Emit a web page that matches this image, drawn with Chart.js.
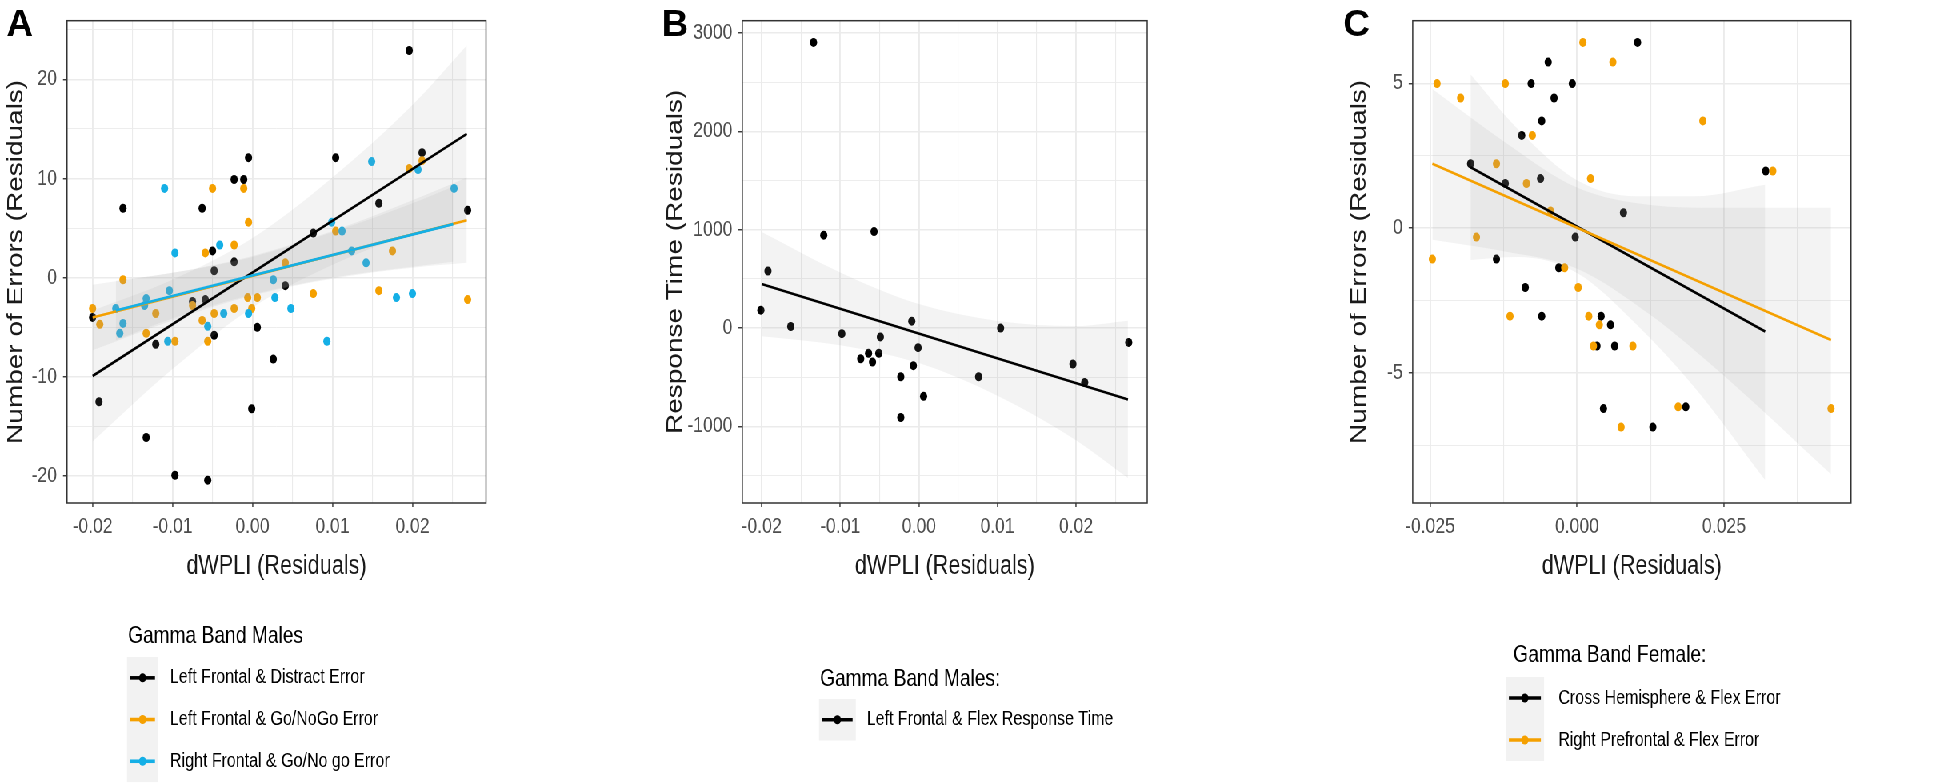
<!DOCTYPE html>
<html>
<head>
<meta charset="utf-8">
<title>dWPLI residual correlations</title>
<script src="https://cdn.jsdelivr.net/npm/chart.js@4.4.1/dist/chart.umd.min.js"></script>
<style>
  html, body { margin: 0; padding: 0; background: #fff; overflow: hidden; }
  /* the source figure is squeezed horizontally, so draw wide and squeeze */
  #wrap { position: absolute; left: 0; top: 0; width: 2450px; height: 784px; transform: scaleX(0.8); transform-origin: 0 0; }
  #wrap canvas { position: absolute; top: 0; }
</style>
</head>
<body>
<div id="wrap">
  <canvas id="panelA" width="812" height="784" style="left:0"></canvas>
  <canvas id="panelB" width="850" height="784" style="left:812px"></canvas>
  <canvas id="panelC" width="788" height="784" style="left:1662px"></canvas>
</div>
<script>
// ---------- data: panel A (Gamma Band Males, errors) ----------
var aBlackX = [-0.0200, -0.0162, -0.0192, -0.0133, -0.0097, -0.0056, -0.0001, -0.0121, -0.0075, -0.0063, -0.0059, -0.0050, -0.0048, -0.0048, -0.0023, -0.0023, -0.0011, -0.0005, 0.0006, 0.0026, 0.0041, 0.0076, 0.0104, 0.0158, 0.0196, 0.0212, 0.0269];
var aBlackY = [-4.0, 7.0, -12.5, -16.1, -19.9, -20.4, -13.2, -6.7, -2.4, 7.0, -2.2, 2.7, 0.7, -5.8, 9.9, 1.6, 9.9, 12.1, -5.0, -8.2, -0.8, 4.5, 12.1, 7.5, 22.9, 12.6, 6.8];
var aOrangeX = [-0.0200, -0.0191, -0.0162, -0.0133, -0.0121, -0.0097, -0.0075, -0.0063, -0.0059, -0.0056, -0.0050, -0.0048, -0.0023, -0.0023, -0.0011, -0.0005, -0.0006, -0.0001, 0.0006, 0.0041, 0.0076, 0.0104, 0.0158, 0.0175, 0.0196, 0.0212, 0.0269];
var aOrangeY = [-3.1, -4.7, -0.2, -5.6, -3.6, -6.4, -2.8, -4.3, 2.5, -6.4, 9.0, -3.6, 3.3, -3.1, 9.0, 5.6, -2.0, -3.1, -2.0, 1.5, -1.6, 4.7, -1.3, 2.7, 11.0, 11.8, -2.2];
var aBlueX = [-0.0171, -0.0166, -0.0162, -0.0133, -0.0135, -0.0110, -0.0106, -0.0104, -0.0097, -0.0056, -0.0041, -0.0036, -0.0005, 0.0026, 0.0028, 0.0048, 0.0093, 0.0099, 0.0112, 0.0124, 0.0142, 0.0149, 0.0180, 0.0200, 0.0207, 0.0252];
var aBlueY = [-3.1, -5.6, -4.6, -2.1, -2.8, 9.0, -6.4, -1.3, 2.5, -4.9, 3.3, -3.6, -3.6, -0.2, -2.0, -3.1, -6.4, 5.6, 4.7, 2.7, 1.5, 11.7, -2.0, -1.6, 10.9, 9.0];

var aBlackFitX = [-0.0200, 0.0268];
var aBlackFitY = [-9.9, 14.5];
var aOrangeFitX = [-0.0200, 0.0268];
var aOrangeFitY = [-4.0, 5.8];
var aBlueFitX = [-0.0171, 0.0251];
var aBlueFitY = [-3.3, 5.4];

var aBlackBandX = [-0.0200, -0.0100, 0.0000, 0.0100, 0.0200, 0.0268];
var aBlackBandHi = [-3.3, -0.2, 4.0, 10.1, 17.4, 23.4];
var aBlackBandLo = [-16.5, -9.2, -3.0, 1.3, 4.4, 5.6];
var aOrangeBandX = [-0.0200, -0.0100, 0.0000, 0.0100, 0.0200, 0.0268];
var aOrangeBandHi = [-0.7, 0.5, 2.2, 4.7, 7.8, 10.1];
var aOrangeBandLo = [-7.3, -4.3, -1.8, -0.1, 1.0, 1.5];
var aBlueBandX = [-0.0171, -0.0100, 0.0000, 0.0100, 0.0200, 0.0251];
var aBlueBandHi = [-0.3, 0.5, 2.1, 4.6, 7.5, 9.2];
var aBlueBandLo = [-6.3, -4.1, -1.7, 0.0, 1.1, 1.6];

var aXTicks = [-0.02, -0.01, 0, 0.01, 0.02];
var aXMinor = [-0.015, -0.005, 0.005, 0.015, 0.025];
var aYTicks = [-20, -10, 0, 10, 20];
var aYMinor = [-15, -5, 5, 15, 25];

// ---------- data: panel B (Gamma Band Males, response time) ----------
var bX = [-0.0134, -0.0192, -0.0201, -0.0163, -0.0121, -0.0098, -0.0074, -0.0064, -0.0059, -0.0057, -0.0051, -0.0049, -0.0023, -0.0009, -0.0007, -0.0001, 0.0006, -0.0023, 0.0076, 0.0104, 0.0196, 0.0211, 0.0267];
var bY = [2905, 580, 182, 16, 945, -57, -312, -256, -345, 981, -256, -90, -495, 70, -382, -199, -694, -909, -495, 0, -365, -554, -146];
var bFitX = [-0.0200, 0.0266];
var bFitY = [448, -726];
var bBandX = [-0.0200, -0.0100, 0.0000, 0.0100, 0.0200, 0.0266];
var bBandHi = [978, 566, 244, 72, 20, 74];
var bBandLo = [-82, -174, -356, -688, -1140, -1526];

var bXTicks = [-0.02, -0.01, 0, 0.01, 0.02];
var bXMinor = [-0.015, -0.005, 0.005, 0.015, 0.025];
var bYTicks = [-1000, 0, 1000, 2000, 3000];
var bYMinor = [-1500, -500, 500, 1500, 2500];

// ---------- data: panel C (Gamma Band Female, errors) ----------
var cBlackX = [-0.0181, -0.0137, -0.0122, -0.0094, -0.0088, -0.0078, -0.0062, -0.0060, -0.0060, -0.0049, -0.0039, -0.0031, -0.0008, -0.0003, 0.0034, 0.0041, 0.0057, 0.0064, 0.0079, 0.0103, 0.0321, 0.0045, 0.0129, 0.0185];
var cBlackY = [2.22, -1.07, 1.54, 3.20, -2.05, 4.99, 1.71, 3.70, -3.04, 5.73, 4.49, -1.37, 4.99, -0.31, -4.07, -3.04, -3.34, -4.07, 0.53, 6.41, 1.97, -6.23, -6.87, -6.17];
var cOrangeX = [-0.0246, -0.0238, -0.0198, -0.0171, -0.0137, -0.0122, -0.0114, -0.0086, -0.0076, -0.0045, -0.0021, 0.0002, 0.0010, 0.0020, 0.0023, 0.0028, 0.0038, 0.0061, 0.0095, 0.0214, 0.0333, 0.0075, 0.0172, 0.0432];
var cOrangeY = [-1.07, 4.99, 4.49, -0.31, 2.22, 4.99, -3.04, 1.54, 3.20, 0.59, -1.37, -2.05, 6.41, -3.04, 1.71, -4.07, -3.34, 5.73, -4.07, 3.70, 1.97, -6.87, -6.17, -6.23];

var cBlackFitX = [-0.0181, 0.0320];
var cBlackFitY = [2.10, -3.57];
var cOrangeFitX = [-0.0246, 0.0432];
var cOrangeFitY = [2.22, -3.86];

var cBlackBandX = [-0.0181, -0.0100, 0.0000, 0.0100, 0.0200, 0.0320];
var cBlackBandHi = [5.3, 3.4, 1.65, 1.1, 1.1, 1.5];
var cBlackBandLo = [-1.1, -1.0, -1.55, -3.3, -5.5, -8.7];
var cOrangeBandX = [-0.0246, -0.0125, 0.0000, 0.0125, 0.0250, 0.0432];
var cOrangeBandHi = [4.8, 3.0, 1.4, 0.8, 0.7, 0.7];
var cOrangeBandLo = [-0.4, -0.8, -1.4, -3.0, -5.1, -8.5];

var cXTicks = [-0.025, 0, 0.025];
var cXMinor = [-0.0125, 0.0125, 0.0375];
var cYTicks = [-5, 0, 5];
var cYMinor = [-7.5, -2.5, 2.5];

// ---------- styling ----------
var SQUEEZE = 0.8;
var FONT = '"Liberation Sans", Arial, sans-serif';
var BLACK = '#000000';
var ORANGE = '#F5A000';
var BLUE = '#14AFE6';
var BAND = 'rgba(153,153,153,0.12)';

function toXY(xs, ys) {
    return xs.map(function(x, i) { return { x: x, y: ys[i] }; });
}

// lower "order" is painted later (on top); later series sit on top like in ggplot
function points(xs, ys, color, order) {
    return { type: 'scatter', data: toXY(xs, ys), backgroundColor: color, borderWidth: 0, pointRadius: 4.5, order: order };
}

function band(xs, hi, lo) {
    return [
        { type: 'line', data: toXY(xs, hi), borderWidth: 0, pointRadius: 0, fill: false, cubicInterpolationMode: 'monotone', order: 2 },
        { type: 'line', data: toXY(xs, lo), borderWidth: 0, pointRadius: 0, fill: '-1', backgroundColor: BAND, cubicInterpolationMode: 'monotone', order: 2 }
    ];
}

function fitLine(label, xs, ys, color, order) {
    return { type: 'line', label: label, key: true, data: toXY(xs, ys), borderColor: color, backgroundColor: color, borderWidth: 2.6, pointRadius: 0, fill: false, order: order };
}

function isMajor(v, majors) {
    return majors.some(function(m) { return Math.abs(m - v) < 1e-9; });
}

// fixed tick list: labelled major ticks plus unlabelled minor grid lines
function setTicks(majors, minors) {
    return function(s) {
        s.ticks = majors.concat(minors).sort(function(p, q) { return p - q; })
            .map(function(v) { return { value: v }; });
    };
}

function gridOpts(majors, wMajor, wMinor, tickLen) {
    return {
        color: '#ebebeb',
        lineWidth: function(c) { return c.tick && isMajor(c.tick.value, majors) ? wMajor : wMinor; },
        tickColor: function(c) { return c.tick && isMajor(c.tick.value, majors) ? '#333333' : 'rgba(0,0,0,0)'; },
        tickLength: tickLen,
        tickWidth: 1.4
    };
}

function xAxis(min, max, majors, minors, digits) {
    return {
        type: 'linear', min: min, max: max,
        afterBuildTicks: setTicks(majors, minors),
        afterFit: function(s) { s.height = 80; },
        border: { display: false },
        grid: gridOpts(majors, 1.9, 1.1, 4),
        ticks: {
            autoSkip: false, maxRotation: 0, padding: 7,
            color: '#4d4d4d', font: { family: FONT, size: 22 },
            callback: function(v) { return isMajor(v, majors) ? (Math.abs(v) < 1e-12 ? 0 : v).toFixed(digits) : ''; }
        },
        title: { display: true, text: 'dWPLI (Residuals)', color: '#1a1a1a', font: { family: FONT, size: 27 }, padding: { top: 0, bottom: 0 } }
    };
}

function yAxis(min, max, majors, minors, width, titleText, titlePad) {
    return {
        type: 'linear', min: min, max: max,
        afterBuildTicks: setTicks(majors, minors),
        afterFit: function(s) { s.width = width; },
        border: { display: false },
        grid: gridOpts(majors, 1.5, 0.9, 5),
        ticks: {
            autoSkip: false, padding: 7.5,
            color: '#4d4d4d', font: { family: FONT, size: 22 },
            callback: function(v) { return isMajor(v, majors) ? String(v) : ''; }
        },
        title: { display: true, text: titleText, color: '#1a1a1a', font: { family: FONT, size: 28 }, padding: { top: titlePad, bottom: 0 } }
    };
}

// panel frame, panel letter and the ggplot style legend
var ggPlugin = {
    id: 'gg',
    afterDraw: function(chart, args, opts) {
        var ctx = chart.ctx;
        var a = chart.chartArea;
        ctx.save();
        ctx.strokeStyle = '#333333';
        ctx.lineWidth = 1.5;
        ctx.strokeRect(a.left, a.top, a.right - a.left, a.bottom - a.top);

        // letter is not squeezed in the source
        ctx.save();
        ctx.translate(opts.tagX, 36);
        ctx.scale(1 / SQUEEZE, 1);
        ctx.font = 'bold 37px ' + FONT;
        ctx.fillStyle = '#000';
        ctx.textBaseline = 'alphabetic';
        ctx.fillText(opts.tag, 0, 0);
        ctx.restore();

        var lg = opts.legend;
        var items = chart.data.datasets.filter(function(d) { return d.key; });
        ctx.textAlign = 'left';
        ctx.textBaseline = 'middle';
        ctx.fillStyle = '#000';
        ctx.font = '24px ' + FONT;
        ctx.fillText(lg.title, lg.titleX, lg.titleY);

        ctx.fillStyle = '#f2f2f2';
        ctx.fillRect(lg.boxX, lg.top, lg.boxW, lg.rowH * items.length);
        items.forEach(function(d, i) {
            var y = lg.top + lg.rowH * (i + 0.5);
            ctx.strokeStyle = d.borderColor;
            ctx.lineWidth = 3.6;
            ctx.beginPath();
            ctx.moveTo(lg.boxX + 4, y);
            ctx.lineTo(lg.boxX + lg.boxW - 4, y);
            ctx.stroke();
            ctx.fillStyle = d.borderColor;
            ctx.beginPath();
            ctx.arc(lg.boxX + lg.boxW / 2, y, 4.5, 0, Math.PI * 2);
            ctx.fill();
            ctx.fillStyle = '#000';
            ctx.font = '20px ' + FONT;
            ctx.fillText(d.label, lg.textX, y);
        });
        ctx.restore();
    }
};

function makePanel(id, datasets, xScale, yScale, rightPad, gg) {
    return new Chart(document.getElementById(id), {
        type: 'scatter',
        data: { datasets: datasets },
        options: {
            responsive: false,
            animation: false,
            events: [],
            layout: { autoPadding: false, padding: { left: 0, right: rightPad, top: 10, bottom: 201 } },
            scales: { x: xScale, y: yScale },
            plugins: { legend: { display: false }, tooltip: { enabled: false }, gg: gg }
        },
        plugins: [ggPlugin]
    });
}

// Panel A
makePanel('panelA',
    [points(aBlackX, aBlackY, BLACK, 3.3), points(aOrangeX, aOrangeY, ORANGE, 3.2), points(aBlueX, aBlueY, BLUE, 3.1)]
        .concat(band(aBlackBandX, aBlackBandHi, aBlackBandLo))
        .concat(band(aOrangeBandX, aOrangeBandHi, aOrangeBandLo))
        .concat(band(aBlueBandX, aBlueBandHi, aBlueBandLo))
        .concat([
            fitLine('Left Frontal & Distract Error', aBlackFitX, aBlackFitY, BLACK, 1.3),
            fitLine('Left Frontal & Go/NoGo Error', aOrangeFitX, aOrangeFitY, ORANGE, 1.2),
            fitLine('Right Frontal & Go/No go Error', aBlueFitX, aBlueFitY, BLUE, 1.1)
        ]),
    xAxis(-0.0232, 0.0292, aXTicks, aXMinor, 2),
    yAxis(-22.7, 25.9, aYTicks, aYMinor, 83.75, 'Number of Errors (Residuals)', 3),
    204.5,
    { tag: 'A', tagX: 8, legend: { title: 'Gamma Band Males', titleX: 160, titleY: 636, boxX: 158.75, boxW: 39, top: 657, rowH: 41.7, textX: 212.5 } }
);

// Panel B
makePanel('panelB',
    [points(bX, bY, BLACK, 3)]
        .concat(band(bBandX, bBandHi, bBandLo))
        .concat([fitLine('Left Frontal & Flex Response Time', bFitX, bFitY, BLACK, 1)]),
    xAxis(-0.02246, 0.02905, bXTicks, bXMinor, 2),
    yAxis(-1779, 3126, bYTicks, bYMinor, 115.9, 'Response Time (Residuals)', 15),
    228,
    { tag: 'B', tagX: 15, legend: { title: 'Gamma Band Males:', titleX: 213, titleY: 679, boxX: 211.75, boxW: 46, top: 699, rowH: 41.5, textX: 271.4 } }
);

// Panel C
makePanel('panelC',
    [points(cBlackX, cBlackY, BLACK, 3.2), points(cOrangeX, cOrangeY, ORANGE, 3.1)]
        .concat(band(cBlackBandX, cBlackBandHi, cBlackBandLo))
        .concat(band(cOrangeBandX, cOrangeBandHi, cOrangeBandLo))
        .concat([
            fitLine('Cross Hemisphere & Flex Error', cBlackFitX, cBlackFitY, BLACK, 1.2),
            fitLine('Right Prefrontal & Flex Error', cOrangeFitX, cOrangeFitY, ORANGE, 1.1)
        ]),
    xAxis(-0.02794, 0.0466, cXTicks, cXMinor, 3),
    yAxis(-9.49, 7.16, cYTicks, cYMinor, 103.9, 'Number of Errors (Residuals)', 20),
    136.25,
    { tag: 'C', tagX: 17, legend: { title: 'Gamma Band Female:', titleX: 229.6, titleY: 655, boxX: 220.1, boxW: 48, top: 677, rowH: 42, textX: 285.9 } }
);
</script>
</body>
</html>
